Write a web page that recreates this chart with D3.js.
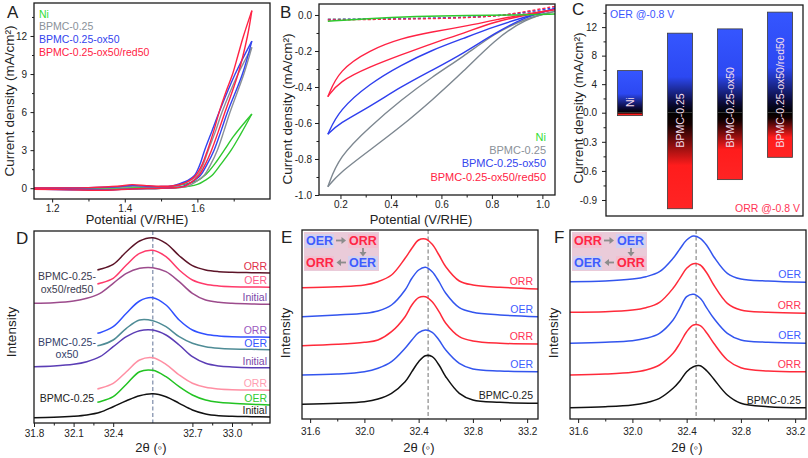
<!DOCTYPE html>
<html>
<head>
<meta charset="utf-8">
<script src="https://cdn.jsdelivr.net/npm/d3@7"></script>
<style>
html,body{margin:0;padding:0;background:#fff;}
svg{display:block;}
</style>
</head>
<body>
<svg id="chart" width="808" height="458"></svg>
<script>
// ======================= DATA =======================
// ---- Panel A : OER CVs (V/RHE, mA/cm2) ----
const aLegend = ["Ni", "BPMC-0.25", "BPMC-0.25-ox50", "BPMC-0.25-ox50/red50"];
const aXTicks = [1.2, 1.4, 1.6];
const aXMinor = [1.3, 1.5, 1.7];
const aYTicks = [0, 3, 6, 9, 12];
const aYMinor = [1.5, 4.5, 7.5, 10.5, 13.5];
const aNiFwd  = [[1.15,0.0],[1.3,0.0],[1.45,0.04],[1.52,0.1],[1.56,0.28],[1.58,0.42],[1.6,0.6],[1.624,1.1],[1.65,2.0],[1.674,3.0],[1.7,4.1],[1.725,5.0],[1.75,5.85]];
const aNiBwd  = [[1.15,-0.06],[1.3,-0.08],[1.45,-0.03],[1.55,0.05],[1.6,0.3],[1.62,0.6],[1.64,1.0],[1.665,1.9],[1.693,3.0],[1.72,4.3],[1.75,5.85]];
const aBpFwd  = [[1.15,0.02],[1.3,0.03],[1.38,0.08],[1.42,0.15],[1.46,0.1],[1.52,0.12],[1.56,0.35],[1.58,0.6],[1.6,1.0],[1.615,1.8],[1.63,3.0],[1.65,4.5],[1.668,6.0],[1.712,9.0],[1.75,11.1]];
const aBpBwd  = [[1.15,-0.06],[1.25,-0.1],[1.35,-0.12],[1.42,-0.04],[1.5,0.0],[1.57,0.12],[1.595,0.5],[1.618,1.0],[1.637,1.9],[1.655,3.0],[1.673,4.5],[1.69,6.0],[1.728,9.0],[1.75,11.1]];
const aOxFwd  = [[1.15,0.02],[1.3,0.04],[1.38,0.12],[1.42,0.22],[1.46,0.15],[1.5,0.13],[1.53,0.18],[1.555,0.4],[1.574,0.62],[1.592,1.0],[1.606,1.8],[1.62,3.0],[1.64,4.5],[1.66,6.0],[1.704,9.0],[1.75,11.6]];
const aOxBwd  = [[1.15,-0.07],[1.25,-0.12],[1.35,-0.14],[1.42,-0.05],[1.5,0.0],[1.54,0.06],[1.56,0.15],[1.585,0.5],[1.608,1.0],[1.627,1.9],[1.646,3.0],[1.665,4.5],[1.683,6.0],[1.724,9.0],[1.75,11.6]];
const aRedFwd = [[1.15,0.02],[1.3,0.05],[1.38,0.15],[1.42,0.28],[1.46,0.2],[1.5,0.15],[1.53,0.18],[1.56,0.35],[1.578,0.6],[1.595,1.0],[1.612,1.8],[1.628,3.0],[1.645,4.5],[1.66,6.0],[1.68,7.7],[1.697,9.0],[1.712,10.5],[1.727,12.0],[1.75,14.0]];
const aRedBwd = [[1.15,-0.08],[1.25,-0.13],[1.35,-0.16],[1.42,-0.06],[1.5,0.0],[1.545,0.06],[1.565,0.15],[1.585,0.5],[1.604,1.0],[1.622,1.9],[1.639,3.0],[1.658,4.5],[1.676,6.0],[1.712,9.0],[1.738,12.0],[1.75,14.0]];

// ---- Panel B : ORR CVs ----
const bXTicks = [0.2, 0.4, 0.6, 0.8, 1.0];
const bXMinor = [0.3, 0.5, 0.7, 0.9];
const bYTicks = [0.0, -0.2, -0.4, -0.6, -0.8, -1.0];
const bYMinor = [-0.1, -0.3, -0.5, -0.7, -0.9];
const bBpUp  = [[0.15,-0.954],[0.194,-0.787],[0.317,-0.62],[0.44,-0.472],[0.564,-0.343],[0.687,-0.231],[0.81,-0.102],[0.933,-0.019],[1.05,0.02]];
const bBpLo  = [[0.15,-0.954],[0.194,-0.88],[0.317,-0.75],[0.44,-0.62],[0.564,-0.472],[0.687,-0.315],[0.81,-0.139],[0.933,-0.019],[1.05,0.02]];
const bOxUp  = [[0.15,-0.663],[0.194,-0.528],[0.317,-0.38],[0.44,-0.278],[0.564,-0.194],[0.687,-0.13],[0.81,-0.065],[0.933,-0.009],[1.05,0.035]];
const bOxLo  = [[0.15,-0.663],[0.194,-0.602],[0.317,-0.509],[0.44,-0.398],[0.564,-0.306],[0.687,-0.213],[0.81,-0.102],[0.933,-0.009],[1.05,0.035]];
const bRedUp = [[0.15,-0.454],[0.194,-0.306],[0.317,-0.194],[0.44,-0.13],[0.564,-0.093],[0.687,-0.065],[0.81,-0.028],[0.933,0.005],[1.05,0.03]];
const bRedLo = [[0.15,-0.454],[0.194,-0.37],[0.317,-0.287],[0.44,-0.222],[0.564,-0.157],[0.687,-0.102],[0.81,-0.037],[0.933,0.0],[1.05,0.03]];
const bNi    = [[0.15,-0.035],[0.3,-0.02],[0.5,-0.008],[0.7,-0.002],[0.9,0.0],[1.05,0.005]];
const bBpN2  = [[0.15,-0.022],[0.4,-0.02],[0.6,-0.016],[0.8,-0.008],[0.9,0.005],[1.05,0.03]];
const bOxN2  = [[0.15,-0.026],[0.4,-0.022],[0.6,-0.018],[0.8,-0.008],[0.9,0.008],[1.05,0.04]];
const bRedN2 = [[0.15,-0.028],[0.4,-0.024],[0.6,-0.02],[0.8,-0.01],[0.9,0.01],[1.05,0.048]];

// ---- Panel C : current density at -0.8 V ----
const cCategories = ["Ni", "BPMC-0.25", "BPMC-0.25-ox50", "BPMC-0.25-ox50/red50"];
const cOER = [5.9, 11.15, 11.75, 14.1];
const cORR = [-0.03, -0.99, -0.69, -0.46];
const cYTicks = [12, 8, 4, 0, -0.3, -0.6, -0.9];
const cYMinor = [14, 10, 6, 2, -0.15, -0.45, -0.75];

// ---- Panel D : XRD (2theta, offset intensity) ----
const dXTicks = [31.8, 32.1, 32.4, 32.7, 33.0];
const dXMinor = [31.95, 32.25, 32.85, 33.15];
const dX  = [31.8,31.95,32.1,32.2,32.3,32.4,32.45,32.5,32.55,32.6,32.65,32.7,32.8,32.9,33.0,33.15,33.29];
const dXs = [32.28,32.3,32.4,32.45,32.5,32.55,32.6,32.65,32.7,32.8,32.9,33.0,33.15,33.29];
const d025Initial = [5.3,5.7,6.7,8,10.7,16.3,22.3,27.3,29.3,26.3,19.7,13,9,7.3,6.7,6.3,6];
const d025OER     = [20.7,21.3,26.3,38.7,51.3,52.7,46.3,36.3,28,23,20.7,19.7,18.7,18];
const d025ORR     = [34,34.7,39.7,51.3,63,65.3,58.7,48,39.7,35.7,34,33.3,33,32.7];
const dOxInitial  = [56.3,57,58.7,61.3,66.3,76.3,86.3,92.3,93,88,78,66.3,59.7,57,56,55.3,55.3];
const dOxOER      = [77.3,77.7,83,94.7,103,102.3,96.3,86.3,79.7,76.3,74.7,74,73.7,73.3];
const dOxORR      = [89.7,90.3,96.3,109.7,122,125.3,118,103,93,88.7,87,86.3,86,85.7];
const dRedInitial = [119.7,120.3,122,124.7,129.7,139.7,149.7,154.7,155.3,151.3,141.3,129.7,123,120.7,119.7,119,118.7];
const dRedOER     = [139,139.7,144.7,158,169.7,172.7,166.3,153,143,138.7,137,136.3,136,135.7];
const dRedORR     = [153,153.7,158.7,171.3,182,185.3,179.7,167.3,157.3,153,151.3,150.7,150.3,150];
const dGroups = [["BPMC-0.25-","ox50/red50"],["BPMC-0.25-","ox50"],["BPMC-0.25"]];

// ---- Panels E / F : XRD cycling ----
const efXTicks = [31.6, 32.0, 32.4, 32.8, 33.2];
const efXMinor = [31.8, 32.2, 32.6, 33.0];
const eX = [31.54,31.8,32.0,32.1,32.2,32.3,32.35,32.4,32.45,32.5,32.55,32.6,32.7,32.8,33.0,33.28];
const eBase = [14.7,15.7,17.3,20,25.7,37.3,47.3,57.3,63.3,62.3,54,42.3,25.7,19,16.7,15.7];
const eOER1 = [44,45,47.3,50.7,57.3,70.7,79,86.3,89,86.7,79,69,55.7,50,48,47.3];
const eORR1 = [73.3,74.7,76.7,79,87.3,102.3,114,121.3,122.3,117.3,107.3,95.7,82.3,78,75.7,75];
const eOER2 = [102.3,104,105.7,108,114,129,140.7,149,151.7,147.3,137.3,125.7,111.3,106.7,104,102.3];
const eORR2 = [131.3,132.3,134,137.3,144,160.7,170.7,179,180,174.7,164,152.3,138,134,131.7,130];
const fBase = [11.3,12.3,14,16.3,20.7,30.7,38,47.3,52.3,53.3,48,40,24,15.7,12.3,11.3];
const fORR1 = [44,45,46.7,49,54,65.7,75.7,87.3,94,93.3,85.7,75.7,59,51.3,48,47.3];
const fOER1 = [75.7,76.7,78.3,80.7,85.7,99,110.7,122.3,124.7,120.7,110.7,100.7,85.7,79,76.7,75.7];
const fORR2 = [106.7,107.3,109,111.3,116.7,130.7,140.7,150.7,155.3,154,145.7,134,115.7,109,106.7,105.7];
const fOER2 = [137.3,138,140,142.3,147.3,160.7,170,179,183,180.7,173.3,162.3,145.7,140,138,136.7];
const refLineD = 32.55;
const refLineEF = 32.47;

// ======================= DRAWING =======================
const FONT = '"Liberation Sans", Arial, Helvetica, sans-serif';
const svg = d3.select("#chart");
const defs = svg.append("defs");
const INK = "#1c1c1c";

function txt(x, y, s, o = {}) {
  const t = svg.append("text").attr("x", x).attr("y", y).text(s)
    .attr("font-family", FONT).attr("font-size", o.size || 10.5)
    .attr("fill", o.fill || "#222").attr("text-anchor", o.anchor || "start");
  if (o.weight) t.attr("font-weight", o.weight);
  return t;
}
function vtxt(x, y, s, size) {
  return svg.append("text").attr("transform", `translate(${x},${y}) rotate(-90)`)
    .attr("text-anchor", "middle").attr("font-family", FONT).attr("font-size", size || 13.5)
    .attr("fill", "#222").text(s);
}
function frame(x0, y0, x1, y1) {
  svg.append("rect").attr("x", x0).attr("y", y0).attr("width", x1 - x0).attr("height", y1 - y0)
    .attr("fill", "none").attr("stroke", INK).attr("stroke-width", 1.3);
}
function clip(id, x0, y0, x1, y1) {
  defs.append("clipPath").attr("id", id).append("rect")
    .attr("x", x0).attr("y", y0).attr("width", x1 - x0).attr("height", y1 - y0);
}
function axis(kind, scale, ticks, fmt, tx, ty, size, pad) {
  const a = (kind === "b" ? d3.axisBottom(scale) : d3.axisLeft(scale))
    .tickValues(ticks).tickSize(size).tickPadding(pad).tickFormat(fmt || (() => ""));
  const g = svg.append("g").attr("transform", `translate(${tx},${ty})`).call(a);
  g.select(".domain").remove();
  g.selectAll(".tick line").attr("stroke", INK).attr("stroke-width", 1);
  g.selectAll(".tick text").attr("font-family", FONT).attr("font-size", 10).attr("fill", "#222");
  return g;
}
const f1 = d => d.toFixed(1);

// ---------- Panel A ----------
{
  const x0 = 34, x1 = 270, y0 = 3, y1 = 199;
  const x = d3.scaleLinear().domain([1.15, 1.8]).range([x0, x1]);
  const y = d3.scaleLinear().domain([-0.85, 14.6]).range([y1, y0]);
  clip("clipA", x0, y0, x1, y1);
  const line = d3.line().x(d => x(d[0])).y(d => y(d[1])).curve(d3.curveCatmullRom.alpha(0.5));
  const g = svg.append("g").attr("clip-path", "url(#clipA)");
  const sets = [[aNiFwd, aNiBwd, "#2fc82f"], [aBpFwd, aBpBwd, "#8a9098"], [aOxFwd, aOxBwd, "#3344ee"], [aRedFwd, aRedBwd, "#ff2244"]];
  sets.forEach(([f, b, c]) => {
    [f, b].forEach(s => g.append("path").attr("d", line(s)).attr("fill", "none")
      .attr("stroke", c).attr("stroke-width", 1.4));
  });
  frame(x0, y0, x1, y1);
  axis("b", x, aXTicks, d => d.toFixed(1), 0, y1, 3.5, 2);
  axis("b", x, aXMinor, null, 0, y1, 2.5, 2);
  axis("l", y, aYTicks, d => String(d), x0, 0, 3.5, 3.5);
  axis("l", y, aYMinor, null, x0, 0, 2, 2);
  const lc = ["#33dd33", "#8a9199", "#3344ee", "#ff2244"];
  aLegend.forEach((s, i) => txt(39, 17.5 + i * 12.8, s, { fill: lc[i], size: 10.5 }));
  txt(137, 224, "Potential (V/RHE)", { anchor: "middle", size: 13 });
  vtxt(13.5, 101, "Current density (mA/cm²)", 13.5);
  txt(7, 18, "A", { size: 17 });
}

// ---------- Panel B ----------
{
  const x0 = 319, x1 = 555, y0 = 4, y1 = 195;
  const x = d3.scaleLinear().domain([0.115, 1.05]).range([x0, x1]);
  const y = d3.scaleLinear().domain([-1.0, 0.061]).range([y1, y0]);
  clip("clipB", x0, y0, x1, y1);
  const line = d3.line().x(d => x(d[0])).y(d => y(d[1])).curve(d3.curveBasis);
  const g = svg.append("g").attr("clip-path", "url(#clipB)");
  [[bBpN2, "#8a9098"], [bOxN2, "#3344ee"], [bRedN2, "#ff2244"]].forEach(([s, c]) =>
    g.append("path").attr("d", line(s)).attr("fill", "none").attr("stroke", c)
      .attr("stroke-width", 1.3).attr("stroke-dasharray", "3,2"));
  [[bBpUp, bBpLo, "#7d8790"], [bOxUp, bOxLo, "#2f3fee"], [bRedUp, bRedLo, "#ff2244"]].forEach(([u, l, c]) => {
    [u, l].forEach(s => g.append("path").attr("d", line(s)).attr("fill", "none")
      .attr("stroke", c).attr("stroke-width", 1.4));
  });
  g.append("path").attr("d", line(bNi)).attr("fill", "none").attr("stroke", "#2fc82f").attr("stroke-width", 1.5);
  frame(x0, y0, x1, y1);
  axis("b", x, bXTicks, f1, 0, y1, 4, 2);
  axis("b", x, bXMinor, null, 0, y1, 2.5, 2);
  axis("l", y, bYTicks, f1, x0, 0, 4, 3);
  axis("l", y, bYMinor, null, x0, 0, 2.5, 2);
  const lc = ["#33dd33", "#8a9199", "#3344ee", "#ff2244"];
  aLegend.forEach((s, i) => txt(546, 141 + i * 13.2, s, { fill: lc[i], size: 11, anchor: "end" }));
  txt(421, 224, "Potential (V/RHE)", { anchor: "middle", size: 13 });
  vtxt(292, 109, "Current density (mA/cm²)", 13.5);
  txt(280, 18, "B", { size: 17 });
}

// ---------- Panel C ----------
{
  const x0 = 606, x1 = 803, y0 = 5, y1 = 216;
  const y = d3.scaleLinear().domain([-1.065, 0, 15.1]).range([y1, 112.7, y0]);
  const x = d3.scaleBand().domain(cCategories).range([605, 805]).paddingInner(0.5).paddingOuter(0.25);
  const gp = defs.append("linearGradient").attr("id", "gPos").attr("x1", 0).attr("y1", 0).attr("x2", 0).attr("y2", 1);
  [[0, "#3556ff"], [0.55, "#2c48f2"], [0.88, "#0b0b3a"], [1, "#000"]].forEach(([o, c]) =>
    gp.append("stop").attr("offset", o).attr("stop-color", c));
  const gn = defs.append("linearGradient").attr("id", "gNeg").attr("x1", 0).attr("y1", 0).attr("x2", 0).attr("y2", 1);
  [[0, "#000"], [0.12, "#140000"], [0.55, "#ff1c1c"], [1, "#ff2424"]].forEach(([o, c]) =>
    gn.append("stop").attr("offset", o).attr("stop-color", c));
  const bw = x.bandwidth();
  cCategories.forEach((cat, i) => {
    const bx = x(cat);
    svg.append("rect").attr("x", bx).attr("y", y(cOER[i])).attr("width", bw)
      .attr("height", y(0) - y(cOER[i])).attr("fill", "url(#gPos)");
    svg.append("rect").attr("x", bx).attr("y", y(0)).attr("width", bw)
      .attr("height", y(cORR[i]) - y(0)).attr("fill", "url(#gNeg)");
    svg.append("rect").attr("x", bx).attr("y", y(cOER[i])).attr("width", bw)
      .attr("height", y(cORR[i]) - y(cOER[i])).attr("fill", "none").attr("stroke", "#3a3a3a").attr("stroke-width", 0.8);
    const ly = cORR[i] < -0.3 ? y(-0.36) : y(0.8);
    svg.append("text").attr("transform", `translate(${bx + bw / 2},${ly}) rotate(-90)`)
      .attr("dy", "0.35em").attr("font-family", FONT).attr("font-size", 10.5)
      .attr("fill", "#f4dcea").text(cat);
  });
  frame(x0, y0, x1, y1);
  axis("l", y, cYTicks, d => d > 0 ? String(d) : d.toFixed(1), x0, 0, 4, 5);
  axis("l", y, cYMinor, null, x0, 0, 2.5, 2);
  txt(610, 18, "OER @-0.8 V", { fill: "#3a55ff", size: 10.5 });
  txt(800, 212, "ORR @-0.8 V", { fill: "#ff3355", size: 10.5, anchor: "end" });
  vtxt(583, 108, "Current density (mA/cm²)", 13.5);
  txt(572, 15, "C", { size: 17 });
}

// ---------- Panel D ----------
{
  const x0 = 34, x1 = 270, y0 = 231, y1 = 423;
  const x = d3.scaleLinear().domain([31.8, 32.1, 32.4, 32.7, 33.0, 33.29]).range([34, 73.6, 113.2, 192.4, 232, 270]);
  const y = d3.scaleLinear().domain([0, 192]).range([y1, y0]);
  clip("clipD", x0, y0, x1, y1);
  const line = d3.line().x(d => x(d[0])).y(d => y(d[1])).curve(d3.curveCatmullRom.alpha(0.5));
  const g = svg.append("g").attr("clip-path", "url(#clipD)");
  g.append("line").attr("x1", x(refLineD)).attr("x2", x(refLineD)).attr("y1", y0).attr("y2", y1)
    .attr("stroke", "#7c8aa8").attr("stroke-width", 1.2).attr("stroke-dasharray", "4,2.5");
  const curves = [
    [dX, d025Initial, "#111", "Initial", "#222"],
    [dXs, d025OER, "#22c322", "OER", "#33cc33"],
    [dXs, d025ORR, "#ff8fa3", "ORR", "#ff9eb2"],
    [dX, dOxInitial, "#5b3db5", "Initial", "#7b46a8"],
    [dXs, dOxOER, "#4f8c96", "OER", "#3355ff"],
    [dXs, dOxORR, "#3050ff", "ORR", "#9b59c0"],
    [dX, dRedInitial, "#9c4b8c", "Initial", "#7b46a8"],
    [dXs, dRedOER, "#ff3a6a", "OER", "#ff5a8a"],
    [dXs, dRedORR, "#5c1428", "ORR", "#e0304a"]
  ];
  curves.forEach(([xs, vs, c, lab, lcol]) => {
    const pts = d3.zip(xs, vs);
    g.append("path").attr("d", line(pts)).attr("fill", "none").attr("stroke", c).attr("stroke-width", 1.5);
    txt(267, y(vs[vs.length - 1]) - 3, lab, { fill: lcol, size: 10.5, anchor: "end" });
  });
  const gc = ["#3b3b4f", "#34416a", "#222"];
  const gy = [[279.5, 293], [346, 358], [401.5]];
  dGroups.forEach((lines, i) => lines.forEach((s, j) => txt(67, gy[i][j], s, { anchor: "middle", fill: gc[i], size: 10.5 })));
  frame(x0, y0, x1, y1);
  axis("b", x, dXTicks, d => d.toFixed(1), 0, y1, 4, 3);
  axis("b", x, dXMinor, null, 0, y1, 2.5, 2);
  txt(151, 452, "2θ (◦)", { anchor: "middle", size: 13 });
  vtxt(16, 332, "Intensity", 13.5);
  txt(16, 244, "D", { size: 17 });
}

// ---------- Panels E & F ----------
function xrdPanel(id, x0, x1, letter, letterX, series, insetX, topRow, yLabelX) {
  const y0 = 230, y1 = 419;
  const x = d3.scaleLinear().domain([31.54, 33.28]).range([x0, x1]);
  const y = d3.scaleLinear().domain([0, 189]).range([y1, y0]);
  clip(id, x0, y0, x1, y1);
  const line = d3.line().x(d => x(d[0])).y(d => y(d[1])).curve(d3.curveCatmullRom.alpha(0.5));
  const g = svg.append("g").attr("clip-path", `url(#${id})`);
  g.append("line").attr("x1", x(refLineEF)).attr("x2", x(refLineEF)).attr("y1", y0).attr("y2", y1)
    .attr("stroke", "#9a9a9a").attr("stroke-width", 1.4).attr("stroke-dasharray", "4,2.5");
  series.forEach(([vs, c, lab, lcol]) => {
    g.append("path").attr("d", line(d3.zip(eX, vs))).attr("fill", "none").attr("stroke", c).attr("stroke-width", 1.5);
    txt(x1 - 5, y(vs[vs.length - 1]) - 4, lab, { fill: lcol, size: 10.5, anchor: "end" });
  });
  frame(x0, y0, x1, y1);
  axis("b", x, efXTicks, d => d.toFixed(1), 0, y1, 4, 5);
  axis("b", x, efXMinor, null, 0, y1, 2.5, 2);
  txt((x0 + x1) / 2 - 1, 452, "2θ (◦)", { anchor: "middle", size: 13 });
  vtxt(yLabelX, 333, "Intensity", 13.5);
  txt(letterX, 243, letter, { size: 17 });
  // inset flow diagram
  const ix = insetX, iy = 232;
  svg.append("rect").attr("x", ix).attr("y", iy).attr("width", 75).attr("height", 39).attr("fill", "#eacbd9");
  const blue = "#3d5cff", red = "#ff2545", grey = "#8c8c8c";
  const col = w => w === "OER" ? blue : red;
  const hl = w => w === "OER" ? "#d3d0ee" : "#f3bfd0";
  const row = (words, by) => {
    svg.append("rect").attr("x", ix + 1).attr("y", by - 11).attr("width", 29).attr("height", 14).attr("fill", hl(words[0]));
    svg.append("rect").attr("x", ix + 44).attr("y", by - 11).attr("width", 30).attr("height", 14).attr("fill", hl(words[1]));
    txt(ix + 2, by, words[0], { fill: col(words[0]), size: 12.5, weight: "bold" });
    txt(ix + 45, by, words[1], { fill: col(words[1]), size: 12.5, weight: "bold" });
  };
  row(topRow, iy + 13);
  row([topRow[1], topRow[0]], iy + 35);
  // arrows
  const ar = svg.append("g").attr("stroke", grey).attr("fill", grey).attr("stroke-width", 1.8);
  ar.append("line").attr("x1", ix + 32).attr("y1", iy + 8.5).attr("x2", ix + 39).attr("y2", iy + 8.5);
  ar.append("path").attr("d", `M${ix + 42},${iy + 8.5}L${ix + 37.5},${iy + 5}L${ix + 37.5},${iy + 12}Z`).attr("stroke", "none");
  ar.append("line").attr("x1", ix + 59).attr("y1", iy + 16).attr("x2", ix + 59).attr("y2", iy + 21);
  ar.append("path").attr("d", `M${ix + 59},${iy + 24.5}L${ix + 55.5},${iy + 20}L${ix + 62.5},${iy + 20}Z`).attr("stroke", "none");
  ar.append("line").attr("x1", ix + 36).attr("y1", iy + 30.5).attr("x2", ix + 42).attr("y2", iy + 30.5);
  ar.append("path").attr("d", `M${ix + 32.5},${iy + 30.5}L${ix + 37},${iy + 27}L${ix + 37},${iy + 34}Z`).attr("stroke", "none");
}

xrdPanel("clipE", 302, 538, "E", 281, [
  [eBase, "#111", "BPMC-0.25", "#222"],
  [eOER1, "#3355ee", "OER", "#3d5cff"],
  [eORR1, "#ff2a3a", "ORR", "#ff3355"],
  [eOER2, "#3355ee", "OER", "#3d5cff"],
  [eORR2, "#ff2a3a", "ORR", "#ff3355"]
], 304, ["OER", "ORR"], 290);

xrdPanel("clipF", 570, 806, "F", 554, [
  [fBase, "#111", "BPMC-0.25", "#222"],
  [fORR1, "#ff2a3a", "ORR", "#ff3355"],
  [fOER1, "#3355ee", "OER", "#3d5cff"],
  [fORR2, "#ff2a3a", "ORR", "#ff3355"],
  [fOER2, "#3355ee", "OER", "#3d5cff"]
], 572, ["ORR", "OER"], 558);
</script>
</body>
</html>
